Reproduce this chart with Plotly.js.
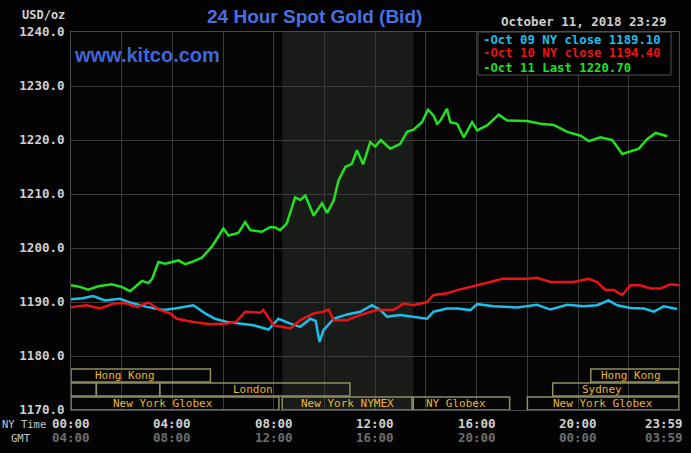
<!DOCTYPE html>
<html>
<head>
<meta charset="utf-8">
<script src="https://cdn.plot.ly/plotly-3.0.1.min.js"></script>
<style>
  body { margin: 0; background: #000; }
  #chart { width: 691px; height: 453px; }
</style>
</head>
<body>
<div id="chart"></div>
<script>
// hours after NY midnight, price in USD/oz
const oct09Hours = [0.0, 0.45, 0.87, 1.34, 1.93, 2.26, 2.99, 3.65, 4.1, 4.83, 5.29, 5.68, 6.15, 6.87, 7.2, 7.79, 8.18, 8.65, 9.04, 9.44, 9.65, 9.8, 9.96, 10.36, 10.88, 11.41, 11.87, 12.2, 12.46, 12.99, 13.51, 14.04, 14.3, 14.83, 15.23, 15.75, 16.02, 16.67, 17.6, 18.38, 18.91, 19.57, 20.22, 20.75, 21.2, 21.54, 22.07, 22.6, 22.99, 23.38, 23.9];
const oct09Values = [1190.5, 1190.7, 1191.1, 1190.3, 1190.6, 1190.0, 1189.1, 1188.5, 1188.8, 1189.4, 1187.9, 1186.9, 1186.3, 1185.9, 1185.7, 1184.9, 1186.9, 1186.0, 1185.4, 1186.9, 1186.5, 1182.6, 1184.8, 1186.9, 1187.7, 1188.2, 1189.4, 1188.5, 1187.3, 1187.6, 1187.2, 1186.9, 1188.2, 1188.8, 1188.8, 1188.5, 1189.6, 1189.2, 1189.0, 1189.5, 1188.6, 1189.5, 1189.2, 1189.4, 1190.3, 1189.4, 1188.9, 1188.8, 1188.2, 1189.2, 1188.7];

const oct10Hours = [0.0, 0.09, 0.62, 1.14, 1.67, 2.13, 2.6, 3.05, 3.51, 3.91, 4.17, 4.83, 5.49, 6.15, 6.5, 6.87, 7.46, 7.59, 7.99, 8.65, 9.04, 9.57, 9.96, 10.16, 10.36, 10.88, 11.41, 12.07, 12.72, 13.12, 13.51, 14.04, 14.3, 14.83, 15.23, 15.88, 16.54, 17.0, 17.99, 18.38, 18.91, 19.83, 20.42, 20.75, 21.08, 21.41, 21.74, 22.07, 22.46, 22.86, 23.25, 23.65, 23.98];
const oct10Values = [1189.0, 1189.1, 1189.4, 1188.8, 1189.7, 1189.8, 1189.1, 1189.9, 1188.5, 1187.9, 1186.9, 1186.3, 1185.9, 1186.0, 1186.3, 1188.2, 1188.0, 1188.5, 1185.7, 1185.1, 1186.6, 1187.9, 1188.2, 1188.6, 1186.6, 1186.6, 1187.6, 1188.5, 1188.5, 1189.7, 1189.4, 1190.0, 1191.3, 1191.6, 1192.2, 1192.9, 1193.7, 1194.3, 1194.3, 1194.5, 1193.7, 1193.7, 1194.3, 1193.7, 1192.2, 1192.2, 1191.3, 1193.1, 1193.1, 1192.5, 1192.5, 1193.3, 1193.1];

const oct11Hours = [0.0, 0.35, 0.68, 1.08, 1.6, 2.0, 2.33, 2.8, 3.05, 3.2, 3.45, 3.71, 4.24, 4.5, 4.76, 5.16, 5.55, 5.82, 6.01, 6.21, 6.6, 6.87, 7.07, 7.53, 7.86, 8.05, 8.25, 8.51, 8.84, 9.04, 9.24, 9.57, 9.9, 10.1, 10.36, 10.55, 10.82, 11.08, 11.28, 11.52, 11.8, 12.0, 12.22, 12.59, 12.99, 13.25, 13.51, 13.84, 14.08, 14.3, 14.44, 14.57, 14.83, 14.96, 15.23, 15.49, 15.82, 16.02, 16.41, 16.87, 17.2, 17.99, 18.52, 19.04, 19.57, 20.1, 20.42, 20.88, 21.35, 21.74, 22.07, 22.4, 22.73, 23.06, 23.52];
const oct11Values = [1193.1, 1192.8, 1192.3, 1192.9, 1193.3, 1192.8, 1192.0, 1193.9, 1193.5, 1194.3, 1197.4, 1197.1, 1197.7, 1197.0, 1197.4, 1198.2, 1200.2, 1202.3, 1203.6, 1202.3, 1202.8, 1204.8, 1203.3, 1203.0, 1203.9, 1203.8, 1203.3, 1204.5, 1209.4, 1208.9, 1209.7, 1206.0, 1208.3, 1206.5, 1208.8, 1212.5, 1215.0, 1215.6, 1218.1, 1215.5, 1219.6, 1218.8, 1220.0, 1218.4, 1219.3, 1221.5, 1221.9, 1223.3, 1225.6, 1224.5, 1223.0, 1223.6, 1225.8, 1223.3, 1223.0, 1220.5, 1223.3, 1221.8, 1222.7, 1224.7, 1223.6, 1223.5, 1223.0, 1222.8, 1221.5, 1220.8, 1219.8, 1220.5, 1220.0, 1217.4, 1217.9, 1218.4, 1220.2, 1221.3, 1220.7];

const legendLabels = ["-Oct 09 NY close 1189.10", "-Oct 10 NY close 1194.40", "-Oct 11 Last 1220.70"];

const tickHours = [0, 4, 8, 12, 16, 20, 23.98];
const nyTimeLabels = ["00:00", "04:00", "08:00", "12:00", "16:00", "20:00", "23:59"];
const gmtLabels = ["04:00", "08:00", "12:00", "16:00", "20:00", "00:00", "03:59"];

// market sessions: row 0 top, row 2 bottom
const sessionNames = ["Hong Kong", "", "", "London", "New York Globex", "New York NYMEX", "NY Globex", "New York Globex", "Sydney", "Hong Kong"];
const sessionStart = [0, 0, 1, 3.5, 0, 8.33, 13.5, 18, 19, 20.5];
const sessionEnd = [5.5, 1, 3.5, 11, 8.2, 13.45, 17.3, 23.98, 23.98, 23.98];
const sessionRow = [0, 1, 1, 1, 2, 2, 2, 2, 1, 0];
const sessionLabelAt = [2.13, 0, 0, 7.16, 3.63, 10.9, 15.2, 21.0, 20.96, 22.07];

const nymexStart = 8.33, nymexEnd = 13.5;

const mono = "'DejaVu Sans Mono', monospace";
const colors = ["#1cbfea", "#ea1414", "#22e022"];

// pixel -> paper helpers (plot area 71..679 x 32..410)
const px = p => (p - 71) / 608;
const py = p => (410 - p) / 378;

const traces = [
  { x: oct09Hours, y: oct09Values, mode: "lines", line: { color: colors[0], width: 2.5 } },
  { x: oct10Hours, y: oct10Values, mode: "lines", line: { color: colors[1], width: 2.5 } },
  { x: oct11Hours, y: oct11Values, mode: "lines", line: { color: colors[2], width: 2.5 } }
];

const rowTop = [1177.6, 1175.0, 1172.4];
const rowH = 2.4;

const shapes = [
  { type: "rect", layer: "below", xref: "x", yref: "paper", x0: nymexStart, x1: nymexEnd, y0: 0, y1: 1,
    fillcolor: "#191b19", line: { width: 0 } },
  { type: "rect", layer: "above", xref: "paper", yref: "paper", x0: px(478), x1: px(671), y0: py(75), y1: py(32),
    fillcolor: "#000", line: { color: "#555", width: 1 } }
];
const annotations = [];

sessionNames.forEach((name, i) => {
  const top = rowTop[sessionRow[i]];
  shapes.push({ type: "rect", layer: "above", xref: "x", yref: "y",
    x0: sessionStart[i], x1: sessionEnd[i], y0: top - rowH, y1: top,
    line: { color: "#8f8f62", width: 1.5 } });
  if (name) {
    annotations.push({ x: sessionLabelAt[i], y: top - rowH / 2, xref: "x", yref: "y", text: name,
      xanchor: "center", yanchor: "middle",
      showarrow: false, font: { family: mono, size: 11, color: "#e6b632" } });
  }
});

legendLabels.forEach((t, i) => {
  annotations.push({ x: px(482), y: py(39.5 + i * 14), xref: "paper", yref: "paper", xanchor: "left", yanchor: "middle",
    text: t, showarrow: false, borderpad: 0,
    font: { family: mono, size: 12.3, color: colors[i], weight: "bold" } });
});

tickHours.forEach((h, i) => {
  const last = i === tickHours.length - 1;
  annotations.push({ x: h, y: py(423), xref: "x", yref: "paper", text: nyTimeLabels[i], showarrow: false,
    xanchor: last ? "right" : "center", yanchor: "middle", xshift: last ? 6 : 0,
    font: { family: mono, size: 12.5, color: "#d0d0d0", weight: "bold" } });
  annotations.push({ x: h, y: py(438), xref: "x", yref: "paper", text: gmtLabels[i], showarrow: false,
    xanchor: last ? "right" : "center", yanchor: "middle", xshift: last ? 6 : 0,
    font: { family: mono, size: 12.5, color: "#6e6e6e", weight: "bold" } });
});

annotations.push(
  { x: px(0), y: py(424), xref: "paper", yref: "paper", xanchor: "left", yanchor: "middle", text: "NY Time", showarrow: false,
    font: { family: mono, size: 10.5, color: "#c8c8c8" } },
  { x: px(9), y: py(438), xref: "paper", yref: "paper", xanchor: "left", yanchor: "middle", text: "GMT", showarrow: false,
    font: { family: mono, size: 10.5, color: "#c8c8c8" } },
  { x: px(20), y: py(15), xref: "paper", yref: "paper", xanchor: "left", yanchor: "middle", text: "USD/oz", showarrow: false,
    font: { family: mono, size: 12, color: "#d0d0d0", weight: "bold" } },
  { x: px(314), y: py(17), xref: "paper", yref: "paper", xanchor: "center", yanchor: "middle", text: "24 Hour Spot Gold (Bid)", showarrow: false,
    font: { family: "'Liberation Sans', Arial, sans-serif", size: 19, color: "#4a6fe3", weight: "bold" } },
  { x: px(669), y: py(22), xref: "paper", yref: "paper", xanchor: "right", yanchor: "middle", text: "October 11, 2018 23:29", showarrow: false,
    font: { family: mono, size: 12.5, color: "#d0d0d0", weight: "bold" } },
  { x: px(72), y: py(55), xref: "paper", yref: "paper", xanchor: "left", yanchor: "middle", text: "www.kitco.com", showarrow: false,
    font: { family: "'Liberation Sans', Arial, sans-serif", size: 20, color: "#3f66dc", weight: "bold" } }
);

const layout = {
  width: 691, height: 453,
  margin: { l: 71, r: 12, t: 32, b: 43 },
  paper_bgcolor: "#030303",
  plot_bgcolor: "#050505",
  showlegend: false,
  hovermode: false,
  xaxis: {
    range: [0, 23.98], dtick: 2, tick0: 0, showticklabels: false,
    showgrid: true, gridcolor: "#3a3a3a", gridwidth: 1, zeroline: false,
    showline: true, mirror: true, linecolor: "#4a4a4a", ticks: ""
  },
  yaxis: {
    range: [1170, 1240], dtick: 10, tickformat: ".1f",
    showgrid: true, gridcolor: "#3a3a3a", gridwidth: 1, zeroline: false,
    showline: true, mirror: true, linecolor: "#4a4a4a",
    ticks: "outside", ticklen: 3, tickcolor: "rgba(0,0,0,0)",
    tickfont: { family: mono, size: 12.5, color: "#d0d0d0", weight: "bold" }
  },
  shapes: shapes,
  annotations: annotations
};

Plotly.newPlot("chart", traces, layout, { displayModeBar: false, staticPlot: true });
</script>
</body>
</html>
